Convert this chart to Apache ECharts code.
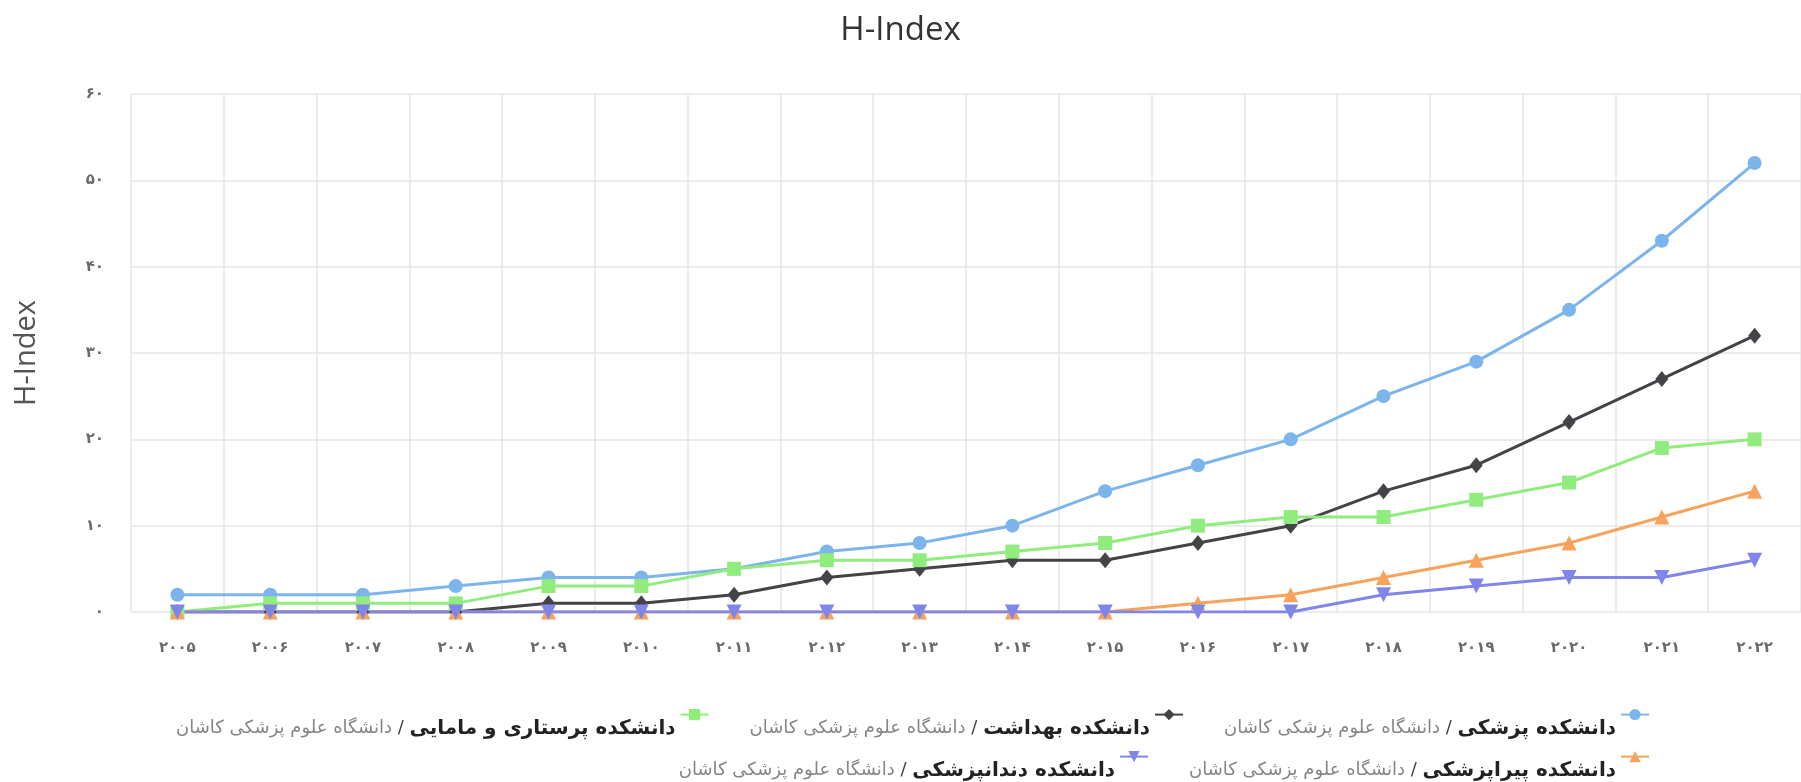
<!DOCTYPE html>
<html>
<head>
<meta charset="utf-8">
<title>H-Index</title>
<script src="https://cdn.jsdelivr.net/npm/echarts@6/dist/echarts.min.js"></script>
<style>
    html, body { margin: 0; padding: 0; background: #fff; }
    #container { width: 1801px; height: 782px; }
</style>
</head>
<body>
<div id="container"></div>
<script>
// years on the x axis
var years = ['2005', '2006', '2007', '2008', '2009', '2010', '2011', '2012', '2013',
    '2014', '2015', '2016', '2017', '2018', '2019', '2020', '2021', '2022'];
// y axis ticks
var yMin = 0;
var yMax = 60;
var yStep = 10;

var university = 'دانشگاه علوم پزشکی کاشان';
var facultyNames = ['دانشکده پزشکی', 'دانشکده بهداشت', 'دانشکده پرستاری و مامایی',
    'دانشکده پیراپزشکی', 'دانشکده دندانپزشکی'];

// H-Index per faculty
var medicine  = [2, 2, 2, 3, 4, 4, 5, 7, 8, 10, 14, 17, 20, 25, 29, 35, 43, 52];
var health    = [0, 0, 0, 0, 1, 1, 2, 4, 5, 6, 6, 8, 10, 14, 17, 22, 27, 32];
var nursing   = [0, 1, 1, 1, 3, 3, 5, 6, 6, 7, 8, 10, 11, 11, 13, 15, 19, 20];
var paramed   = [0, 0, 0, 0, 0, 0, 0, 0, 0, 0, 0, 1, 2, 4, 6, 8, 11, 14];
var dentistry = [0, 0, 0, 0, 0, 0, 0, 0, 0, 0, 0, 0, 0, 2, 3, 4, 4, 6];

var colors = ['#7cb5ec', '#434348', '#90ed7d', '#f7a35c', '#8085e9'];

// latin digits -> persian digits
function toFa(v) {
    var fa = '۰۱۲۳۴۵۶۷۸۹';
    return String(v).replace(/[0-9]/g, function (d) { return fa[+d]; });
}

var fullName = function (i) { return facultyNames[i] + ' / ' + university; };

function legendFormatter(name) {
    var parts = name.split(' / ');
    return '{u|' + parts[1] + '}{s| / }{f|' + parts[0] + '}';
}

var legendText = {
    fontFamily: 'DejaVu Sans',
    padding: [28, 0, 0, 0],
    rich: {
        u: { fontFamily: 'DejaVu Sans', fontSize: 18, color: '#858585' },
        s: { fontFamily: 'DejaVu Sans', fontSize: 18, color: '#444' },
        f: { fontFamily: 'DejaVu Sans', fontSize: 20, fontWeight: 'bold', color: '#222' }
    }
};

var myChart = echarts.init(document.getElementById('container'));
var option = {
    color: colors,
    title: {
        text: 'H-Index',
        left: 'center',
        top: 9,
        textStyle: {
            fontFamily: 'Open Sans',
            fontSize: 33,
            fontWeight: 'normal',
            color: '#333'
        }
    },
    legend: [
        {
            data: [fullName(2), fullName(1), fullName(0)],
            right: 146,
            top: 704,
            align: 'right',
            itemGap: 40,
            itemWidth: 28,
            itemHeight: 14,
            formatter: legendFormatter,
            textStyle: legendText
        },
        {
            data: [fullName(4), fullName(3)],
            right: 146,
            top: 746,
            align: 'right',
            itemGap: 40,
            itemWidth: 28,
            itemHeight: 14,
            formatter: legendFormatter,
            textStyle: legendText
        }
    ],
    grid: {
        left: 131,
        right: -10,
        top: 94,
        bottom: 170
    },
    xAxis: {
        type: 'category',
        data: years,
        boundaryGap: true,
        axisLine: { show: false },
        axisTick: { show: false },
        axisLabel: {
            interval: 0,
            margin: 29,
            fontFamily: 'DejaVu Sans',
            fontSize: 15,
            fontWeight: 'bold',
            color: '#6b6b6b',
            formatter: function (v) { return toFa(v); }
        },
        splitLine: {
            show: true,
            interval: 0,
            lineStyle: { color: '#e6e6e6', width: 1.5 }
        }
    },
    yAxis: {
        type: 'value',
        min: yMin,
        max: yMax,
        interval: yStep,
        name: 'H-Index',
        nameLocation: 'middle',
        nameGap: 90,
        nameTextStyle: {
            fontFamily: 'Open Sans',
            fontSize: 29,
            color: '#555'
        },
        axisLine: { show: false },
        axisTick: { show: false },
        axisLabel: {
            margin: 27,
            fontFamily: 'DejaVu Sans',
            fontSize: 15,
            fontWeight: 'bold',
            color: '#6b6b6b',
            formatter: function (v) { return toFa(v); }
        },
        splitLine: {
            lineStyle: { color: '#e6e6e6', width: 1.5 }
        }
    },
    series: [
        {
            name: fullName(0),
            type: 'line',
            data: medicine,
            symbol: 'circle',
            symbolSize: 14,
            lineStyle: { width: 3 }
        },
        {
            name: fullName(1),
            type: 'line',
            data: health,
            symbol: 'diamond',
            symbolSize: [13, 16],
            lineStyle: { width: 3 }
        },
        {
            name: fullName(2),
            type: 'line',
            data: nursing,
            symbol: 'rect',
            symbolSize: 14,
            lineStyle: { width: 3 }
        },
        {
            name: fullName(3),
            type: 'line',
            data: paramed,
            symbol: 'triangle',
            symbolSize: 15,
            lineStyle: { width: 3 }
        },
        {
            name: fullName(4),
            type: 'line',
            data: dentistry,
            symbol: 'path://M0,0 L10,0 L5,9 Z',
            symbolSize: 15,
            lineStyle: { width: 3 }
        }
    ]
};
if (option && typeof option === "object") {
    myChart.setOption(option, true);
}
</script>
</body>
</html>
